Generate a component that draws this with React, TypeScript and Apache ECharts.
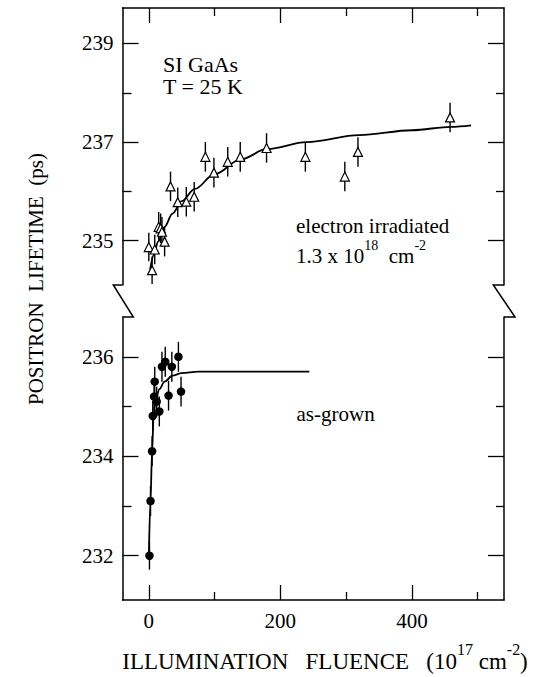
import React, { useEffect, useRef } from "react";
import * as echarts from "echarts";

const FONT = '"Liberation Serif", "Times New Roman", serif';

// Electron irradiated (open triangles)
const irrX = [0, 5, 9, 15, 18, 20, 24, 33, 44, 57, 69, 86, 99, 120, 139, 179, 238, 298, 318, 458];
const irrY = [234.87, 234.4, 234.82, 235.28, 235.25, 235.18, 234.98, 236.1, 235.78, 235.79, 235.89, 236.7, 236.38, 236.6, 236.7, 236.88, 236.7, 236.3, 236.8, 237.5];
const irrErr = [0.29, 0.28, 0.3, 0.3, 0.3, 0.3, 0.3, 0.3, 0.3, 0.3, 0.3, 0.3, 0.3, 0.3, 0.3, 0.3, 0.3, 0.3, 0.3, 0.3];
const irrFitX = [2, 8, 14, 24, 36, 50, 70, 100, 140, 180, 240, 320, 400, 460, 490];
const irrFitY = [234.42, 234.72, 234.98, 235.28, 235.55, 235.8, 236.05, 236.35, 236.65, 236.86, 237.0, 237.14, 237.24, 237.31, 237.34];

// As-grown (filled circles)
const grX = [1, 2.6, 5, 6, 8, 9, 12, 16, 20, 25, 30, 35, 45, 49];
const grY = [232.0, 233.1, 234.1, 234.81, 235.2, 235.5, 235.1, 234.9, 235.8, 235.9, 235.22, 235.8, 236.0, 235.3];
const grErr = [0.28, 0.3, 0.3, 0.3, 0.3, 0.3, 0.3, 0.3, 0.3, 0.3, 0.3, 0.3, 0.3, 0.3];
const grFitX = [0, 2.5, 5, 7, 10, 16, 24, 36, 50, 75, 120, 244];
const grFitY = [231.95, 233.1, 234.1, 234.7, 235.1, 235.35, 235.5, 235.62, 235.67, 235.7, 235.7, 235.7];

// Axes
const xMajor = [0, 200, 400];
const xMinor = [100, 300, 500];
const yTopMajor = [235, 237, 239];
const yTopMinor = [236, 238];
const yBotMajor = [232, 234, 236];
const yBotMinor = [233, 235];

const X_MIN = -40;
const X_MAX = 540;
const YT_MIN = 234.1;
const YT_MAX = 239.72;
const YB_MIN = 231.11;
const YB_MAX = 236.8;

// layout
const GL = 122.5;
const GR = 504;
const T0 = 8;
const B0 = 285;
const T1 = 317;
const B1 = 600;
const W = 537;
const H = 677;

const LINE = { color: "#000", width: 1.5 };
const TICK = { color: "#000", width: 1.3 };

function xAxis(gridIndex: number, position: string, ticks: number[], len: number, showLine: boolean, labels?: number[]) {
  return {
    type: "value",
    gridIndex,
    position,
    min: X_MIN,
    max: X_MAX,
    axisLine: { show: showLine, onZero: false, lineStyle: LINE },
    axisTick: { show: true, inside: true, length: len, customValues: ticks, lineStyle: TICK },
    axisLabel: labels
      ? { show: true, customValues: labels, color: "#000", fontFamily: FONT, fontSize: 21, margin: 10 }
      : { show: false },
    splitLine: { show: false },
  };
}

function yAxis(gridIndex: number, position: string, min: number, max: number, ticks: number[], len: number, showLine: boolean, labels?: number[]) {
  return {
    type: "value",
    gridIndex,
    position,
    min,
    max,
    axisLine: { show: showLine, onZero: false, lineStyle: LINE },
    axisTick: { show: true, inside: true, length: len, customValues: ticks, lineStyle: TICK },
    axisLabel: labels
      ? { show: true, customValues: labels, color: "#000", fontFamily: FONT, fontSize: 21, margin: 9 }
      : { show: false },
    splitLine: { show: false },
  };
}

function errorSeries(xi: number, yi: number, xs: number[], ys: number[], es: number[]) {
  return {
    type: "custom",
    xAxisIndex: xi,
    yAxisIndex: yi,
    z: 2,
    silent: true,
    encode: { x: 0, y: 1 },
    data: xs.map((x, i) => [x, ys[i], es[i]]),
    renderItem: (_p: any, api: any) => {
      const x = api.value(0);
      const y = api.value(1);
      const e = api.value(2);
      const a = api.coord([x, y - e]);
      const b = api.coord([x, y + e]);
      return {
        type: "line",
        shape: { x1: a[0], y1: a[1], x2: b[0], y2: b[1] },
        style: { stroke: "#000", lineWidth: 1.4 },
      };
    },
  };
}

export default function App() {
  const ref = useRef<HTMLDivElement>(null);
  useEffect(() => {
    const chart = echarts.init(ref.current!, null, { renderer: "svg" });
    const txt = (text: string, x: number, y: number, size = 21) => ({
      type: "text",
      x,
      y,
      style: { text, fill: "#000", font: `${size}px ${FONT}`, textAlign: "left", textVerticalAlign: "middle" },
    });
    const richBase = (size: number, sup: number, lh: number) => ({
      m: { fontSize: size, fontFamily: FONT, color: "#000", lineHeight: lh, verticalAlign: "bottom" },
      s: { fontSize: sup, fontFamily: FONT, color: "#000", lineHeight: sup, verticalAlign: "top" },
    });
    const option: any = {
      animation: false,
      backgroundColor: "#fff",
      grid: [
        { left: GL, top: T0, width: GR - GL, height: B0 - T0 },
        { left: GL, top: T1, width: GR - GL, height: B1 - T1 },
      ],
      xAxis: [
        xAxis(0, "top", xMajor, 15, true),
        xAxis(0, "top", xMinor, 8, false),
        xAxis(1, "bottom", xMajor, 15, true, xMajor),
        xAxis(1, "bottom", xMinor, 8, false),
      ],
      yAxis: [
        yAxis(0, "left", YT_MIN, YT_MAX, yTopMajor, 16, true, yTopMajor),
        yAxis(0, "left", YT_MIN, YT_MAX, yTopMinor, 9, false),
        yAxis(0, "right", YT_MIN, YT_MAX, yTopMajor, 16, true),
        yAxis(0, "right", YT_MIN, YT_MAX, yTopMinor, 8, false),
        yAxis(1, "left", YB_MIN, YB_MAX, yBotMajor, 16, true, yBotMajor),
        yAxis(1, "left", YB_MIN, YB_MAX, yBotMinor, 9, false),
        yAxis(1, "right", YB_MIN, YB_MAX, yBotMajor, 16, true),
        yAxis(1, "right", YB_MIN, YB_MAX, yBotMinor, 8, false),
      ],
      series: [
        errorSeries(0, 0, irrX, irrY, irrErr),
        {
          type: "line",
          xAxisIndex: 0,
          yAxisIndex: 0,
          z: 3,
          showSymbol: false,
          smooth: 0.35,
          smoothMonotone: "x",
          lineStyle: { color: "#000", width: 1.8 },
          data: irrFitX.map((x, i) => [x, irrFitY[i]]),
        },
        {
          type: "scatter",
          xAxisIndex: 0,
          yAxisIndex: 0,
          z: 4,
          symbol: "triangle",
          symbolSize: 9,
          itemStyle: { color: "#fff", borderColor: "#000", borderWidth: 1.2, opacity: 1 },
          data: irrX.map((x, i) => [x, irrY[i]]),
        },
        errorSeries(2, 4, grX, grY, grErr),
        {
          type: "line",
          xAxisIndex: 2,
          yAxisIndex: 4,
          z: 3,
          showSymbol: false,
          smooth: 0.35,
          smoothMonotone: "x",
          lineStyle: { color: "#000", width: 1.8 },
          data: grFitX.map((x, i) => [x, grFitY[i]]),
        },
        {
          type: "scatter",
          xAxisIndex: 2,
          yAxisIndex: 4,
          z: 4,
          symbol: "circle",
          symbolSize: 8.5,
          itemStyle: { color: "#000", opacity: 1 },
          data: grX.map((x, i) => [x, grY[i]]),
        },
      ],
      graphic: [
        {
          type: "polyline",
          shape: { points: [[GL, B0], [113.3, B0], [133.3, T1], [GL, T1]] },
          style: { stroke: "#000", lineWidth: 1.5, fill: null },
        },
        {
          type: "polyline",
          shape: { points: [[GR, B0], [493.3, B0], [515, T1], [GR, T1]] },
          style: { stroke: "#000", lineWidth: 1.5, fill: null },
        },
        txt("SI GaAs", 163, 64, 22),
        txt("T = 25 K", 163, 86.5, 22),
        txt("electron irradiated", 296, 226, 21),
        {
          type: "text",
          x: 296,
          y: 252,
          style: {
            text: "{m|1.3 x 10}{s|18}{m|\u00a0\u00a0cm}{s|-2}",
            rich: richBase(21, 14, 28),
            textAlign: "left",
            textVerticalAlign: "middle",
          },
        },
        txt("as-grown", 296.5, 414, 21),
        {
          type: "text",
          x: 36,
          y: 279,
          rotation: Math.PI / 2,
          style: {
            text: "POSITRON\u00a0\u00a0LIFETIME\u00a0\u00a0(ps)",
            fill: "#000",
            font: `21px ${FONT}`,
            textAlign: "center",
            textVerticalAlign: "middle",
          },
        },
        {
          type: "text",
          x: 325,
          y: 657,
          style: {
            text: "{m|ILLUMINATION\u00a0\u00a0\u00a0FLUENCE\u00a0\u00a0\u00a0(10}{s|17}{m|\u00a0cm}{s|-2}{m|)}",
            rich: richBase(23, 16, 31),
            textAlign: "center",
            textVerticalAlign: "middle",
          },
        },
      ],
    };
    chart.setOption(option);
    return () => chart.dispose();
  }, []);
  return (
    <div
      ref={ref}
      style={{ position: "absolute", left: 0, top: 0, width: W, height: H, background: "#fff" }}
    />
  );
}
